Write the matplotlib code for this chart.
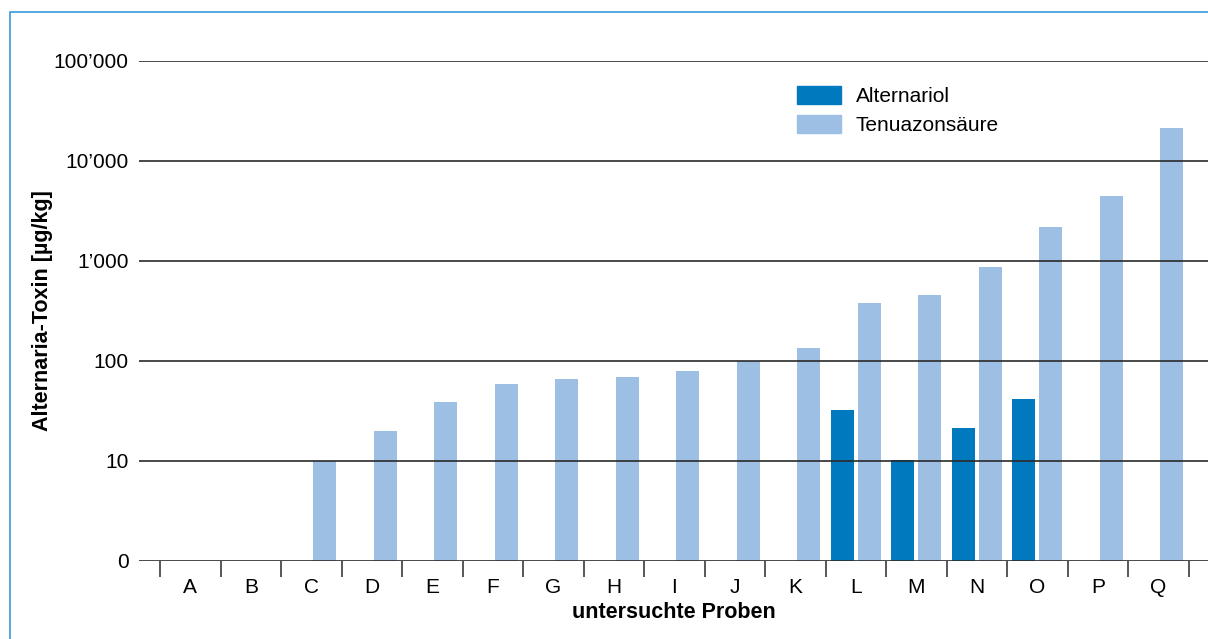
import numpy as np
import matplotlib
matplotlib.use("Agg")
import matplotlib.pyplot as plt
from matplotlib.patches import Patch, Rectangle

plt.rcParams["font.family"] = ["Liberation Sans", "DejaVu Sans"]

# Alternaria toxins per sample, µg/kg (nan = not detected)
samples = list("ABCDEFGHIJKLMNOPQ")
alternariol = [np.nan] * 11 + [32, 10.2, 21.5, 42, np.nan, np.nan]
tenuazonsaeure = [np.nan, np.nan, 10, 20, 39, 59, 66, 69, 79, 100, 135,
                  380, 457, 870, 2190, 4470, 21400]

y_ticks = [1, 10, 100, 1000, 10000, 100000]
y_labels = ["0", "10", "100", "1\u2019000", "10\u2019000", "100\u2019000"]

col_alt = "#0079BF"
col_ten = "#9EBFE4"
grid_col = "#2A2A2A"

fig = plt.figure(figsize=(12.08, 6.39), dpi=100)
ax = fig.add_axes([139 / 1208, 1 - 561 / 639, 1 - 139 / 1208, 500 / 639])

x = np.arange(len(samples))
w = 0.38
off = 0.224
ax.bar(x - off, alternariol, width=w, color=col_alt, zorder=2)
ax.bar(x + off, tenuazonsaeure, width=w, color=col_ten, zorder=2)

ax.set_yscale("log")
ax.set_ylim(1, 100000)
ax.set_xlim(-0.847, 16.82)

# horizontal grid lines drawn over the bars
for t in y_ticks:
    ax.axhline(t, color=grid_col, lw=1.2, zorder=3)

for s in ax.spines.values():
    s.set_visible(False)

ax.set_yticks(y_ticks)
ax.set_yticklabels(y_labels)
ax.yaxis.set_minor_locator(matplotlib.ticker.NullLocator())
ax.tick_params(axis="y", length=0, pad=7.5, labelsize=15)

ax.set_xticks(x)
ax.set_xticklabels(samples)
ax.set_xticks(np.arange(-0.5, len(samples)), minor=True)
ax.tick_params(axis="x", which="major", length=0, pad=12, labelsize=15)
ax.tick_params(axis="x", which="minor", length=11.5, width=1.1,
               color=grid_col, direction="out")

ax.set_xlabel("untersuchte Proben", fontsize=15.5, fontweight="bold")
ax.set_ylabel("Alternaria-Toxin [\u00b5g/kg]", fontsize=15.5, fontweight="bold")
ax.xaxis.set_label_coords(0.5, -0.083)
ax.yaxis.set_label_coords(-0.080, 0.5)

handles = [Patch(color=col_alt, label="Alternariol"),
           Patch(color=col_ten, label="Tenuazons\u00e4ure")]
ax.legend(handles=handles, loc="upper left",
          bbox_to_anchor=(793 / 1208, 1 - 82 / 639),
          bbox_transform=fig.transFigure, frameon=False, fontsize=15,
          handlelength=2.1, handleheight=0.96, handletextpad=0.7,
          labelspacing=0.4, borderaxespad=0, borderpad=0.2)

# thin blue frame around the figure
fig.patches.append(Rectangle((10 / 1208, -0.05), 1.1, 1 - 12 / 639 + 0.05,
                             transform=fig.transFigure, fill=False,
                             edgecolor="#3A9AD9", lw=1.2))

fig.savefig("out.png", dpi=100)
